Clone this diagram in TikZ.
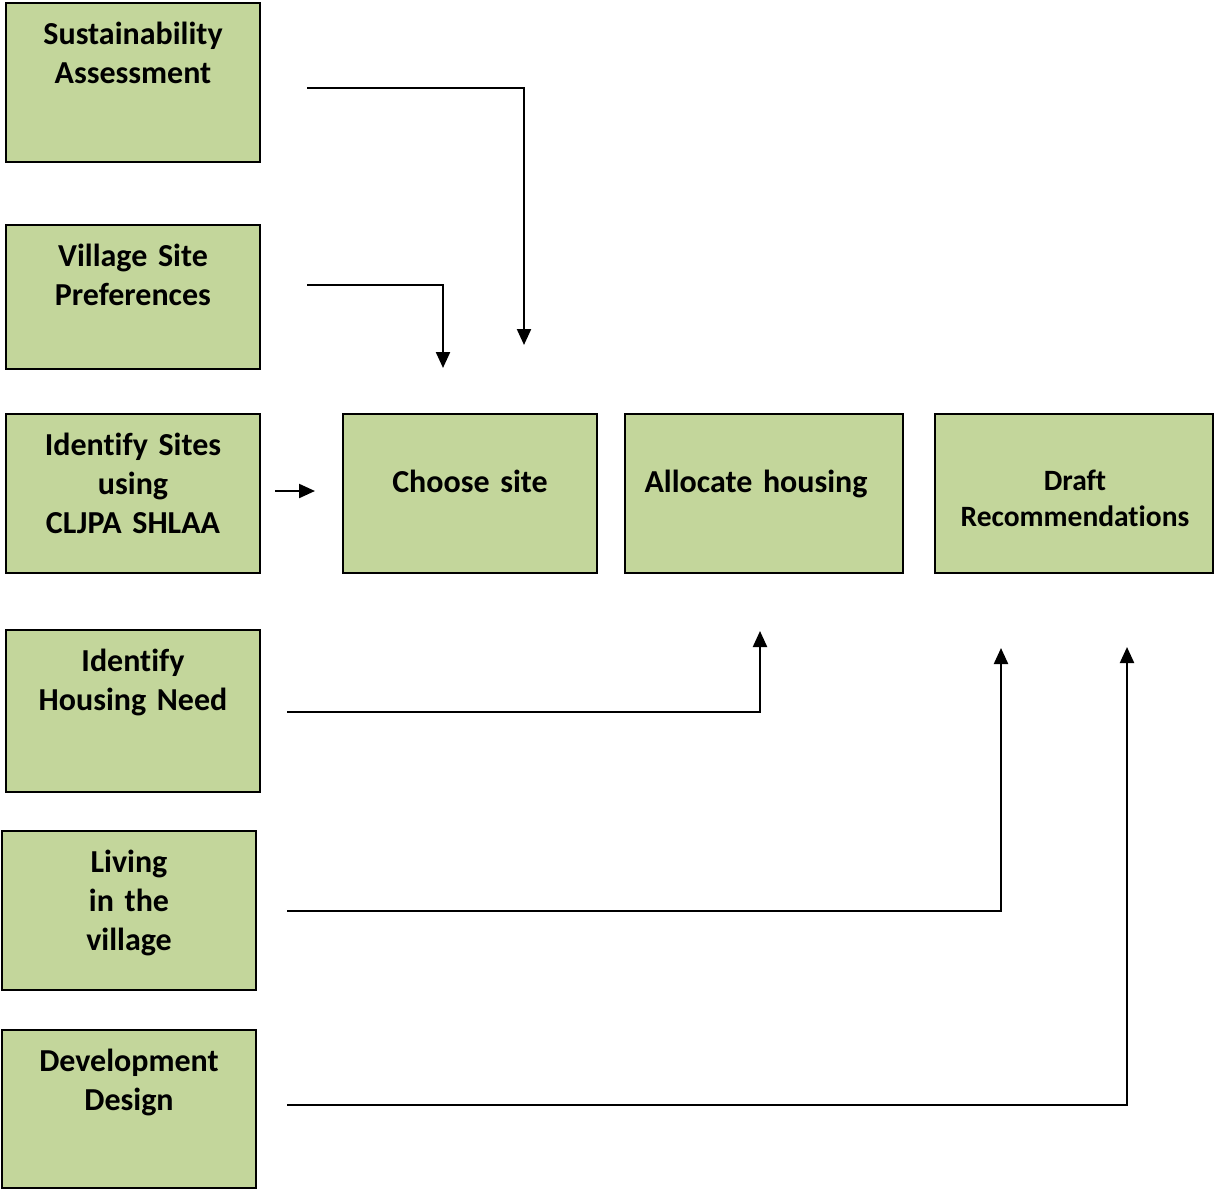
\documentclass[tikz,border=0pt]{standalone}
\usepackage{fontspec}
\setmainfont[Ligatures=NoCommon,WordSpace=0.8]{Carlito}
\usetikzlibrary{arrows.meta}
\definecolor{boxgreen}{HTML}{C3D69B}
\begin{document}
\begin{tikzpicture}[x=1pt,y=-1pt,
  box/.style={draw=black, line width=2pt, fill=boxgreen, anchor=north west, inner sep=0pt, outer sep=0pt},
  lbl/.style={anchor=base, text width=270pt, align=center, inner sep=0pt, font=\fontsize{32}{39}\selectfont\bfseries},
  lbls/.style={lbl, font=\fontsize{29.5}{36}\selectfont\bfseries},
  conn/.style={line width=2.2pt, -{Triangle[length=16pt,width=14pt]}}]
\useasboundingbox (0,0) rectangle (1214,1189);
% boxes
\node[box, minimum width=254pt, minimum height=159pt] (sa) at (6,3) {};
\node[box, minimum width=254pt, minimum height=144pt] (vsp) at (6,225) {};
\node[box, minimum width=254pt, minimum height=159pt] (is) at (6,414) {};
\node[box, minimum width=254pt, minimum height=162pt] (ihn) at (6,630) {};
\node[box, minimum width=254pt, minimum height=159pt] (liv) at (2,831) {};
\node[box, minimum width=254pt, minimum height=158pt] (dd) at (2,1030) {};
\node[box, minimum width=254pt, minimum height=159pt] (cs) at (343,414) {};
\node[box, minimum width=278pt, minimum height=159pt] (ah) at (625,414) {};
\node[box, minimum width=278pt, minimum height=159pt] (dr) at (935,414) {};
% labels
\node[lbl] (tsa) at (133,44) {Sustainability\\Assessment};
\node[lbl] (tvsp) at (133,266) {Village Site\\Preferences};
\node[lbl] (tis) at (133,455) {Identify Sites\\using\\CLJPA SHLAA};
\node[lbl] (tihn) at (133,671) {Identify\\Housing Need};
\node[lbl] (tliv) at (129,872) {Living\\in the\\village};
\node[lbl] (tdd) at (129,1071) {Development\\Design};
\node[lbl] (tcs) at (470,492) {Choose site};
\node[lbl] (tah) at (756,492) {Allocate housing};
\node[lbls] (tdr) at (1075,490) {Draft\\Recommendations};
% connector coordinates
\coordinate (s1) at (307,88);
\coordinate (e1) at (524,345);
\coordinate (s2) at (307,285);
\coordinate (e2) at (443,368);
\coordinate (s3) at (275,491);
\coordinate (e3) at (315,491);
\coordinate (s4) at (287,712);
\coordinate (e4) at (760,631);
\coordinate (s5) at (287,911);
\coordinate (e5) at (1001,648);
\coordinate (s6) at (287,1105);
\coordinate (e6) at (1127,647);
% connectors
\draw[conn] (s1) -| (e1);
\draw[conn] (s2) -| (e2);
\draw[conn] (s3) -- (e3);
\draw[conn] (s4) -| (e4);
\draw[conn] (s5) -| (e5);
\draw[conn] (s6) -| (e6);
\end{tikzpicture}
\end{document}
